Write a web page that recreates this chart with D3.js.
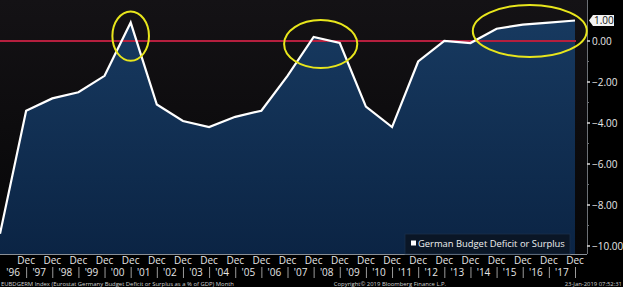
<!DOCTYPE html>
<html><head><meta charset="utf-8">
<script src="https://cdn.jsdelivr.net/npm/d3@7"></script>
<style>html,body{margin:0;padding:0;background:#000;overflow:hidden}svg{display:block}</style>
</head><body>
<script>
const years = [1995,1996,1997,1998,1999,2000,2001,2002,2003,2004,2005,2006,2007,2008,2009,2010,2011,2012,2013,2014,2015,2016,2017];
const values = [-9.4,-3.4,-2.8,-2.5,-1.7,0.9,-3.1,-3.9,-4.2,-3.7,-3.4,-1.7,0.2,-0.1,-3.2,-4.2,-1.0,0.0,-0.1,0.6,0.8,0.9,1.0];
const yTicks = [1,0,-2,-4,-6,-8,-10];
const minorTicks = [-1,-3,-5,-7,-9];
const tickYears = years.slice(1);
const seriesName = "German Budget Deficit or Surplus";
const highlights = [
  {year:2000.0, value:0.24, rxYears:0.70, ryUnits:1.20},
  {year:2007.27, value:-0.15, rxYears:1.40, ryUnits:1.17},
  {year:2015.27, value:0.49, rxYears:2.18, ryUnits:1.27}
];
const footerLeft = "EUBDGERM Index (Eurostat Germany Budget Deficit or Surplus as a % of GDP)  Month";
const footerMid = "Copyright\u00A9 2019 Bloomberg Finance L.P.";
const footerRight = "23-Jan-2019 07:52:31";

const W = 623, H = 287;
const plotR = 576, plotB = 254, axisX = 587;
const svg = d3.select("body").append("svg").attr("width", W).attr("height", H);
const defs = svg.append("defs");
const bg = defs.append("linearGradient").attr("id","bg").attr("x1",0).attr("y1",0).attr("x2",0).attr("y2",1);
bg.append("stop").attr("offset","0%").attr("stop-color","#141215");
bg.append("stop").attr("offset","100%").attr("stop-color","#060607");
const fg = defs.append("linearGradient").attr("id","fillg").attr("gradientUnits","userSpaceOnUse").attr("x1",0).attr("y1",0).attr("x2",0).attr("y2",plotB);
fg.append("stop").attr("offset","0%").attr("stop-color","#183b62");
fg.append("stop").attr("offset","100%").attr("stop-color","#0b2444");

svg.append("rect").attr("width",W).attr("height",H).attr("fill","#000");
svg.append("rect").attr("width",axisX).attr("height",plotB).attr("fill","url(#bg)");

const x = d3.scaleLinear().domain([1995,2017]).range([0,575]);
const y = d3.scaleLinear().domain([-10,0]).range([246,41]);
const data = years.map((yr,i)=>({year:yr, value:values[i]}));

const area = d3.area().x(d=>x(d.year)).y0(plotB).y1(d=>y(d.value));
svg.append("path").datum(data).attr("d",area).attr("fill","url(#fillg)");

svg.append("line").attr("x1",0).attr("x2",plotR).attr("y1",y(0)).attr("y2",y(0))
  .attr("stroke","#b51f3e").attr("stroke-width",2);

const line = d3.line().x(d=>x(d.year)).y(d=>y(d.value));
svg.append("path").datum(data).attr("d",line).attr("fill","none")
  .attr("stroke","#ffffff").attr("stroke-width",2.2).attr("stroke-linejoin","miter");

svg.append("line").attr("x1",0).attr("x2",axisX).attr("y1",plotB+0.5).attr("y2",plotB+0.5)
  .attr("stroke","#8a8f96").attr("stroke-width",1);

svg.append("line").attr("x1",axisX+0.5).attr("x2",axisX+0.5).attr("y1",0).attr("y2",plotB)
  .attr("stroke","#6d7176").attr("stroke-width",1);
const ax = svg.append("g").attr("transform",`translate(${axisX},0)`);
ax.selectAll(".mt").data(minorTicks).join("line")
  .attr("x1",0).attr("x2",2).attr("y1",d=>y(d)).attr("y2",d=>y(d))
  .attr("stroke","#6d7176").attr("stroke-width",1);
ax.selectAll(".t").data(yTicks.filter(d=>d!==1)).join("line")
  .attr("x1",0).attr("x2",3).attr("y1",d=>y(d)).attr("y2",d=>y(d))
  .attr("stroke","#d8d8d8").attr("stroke-width",1.5);
ax.selectAll(".tl").data(yTicks.filter(d=>d!==1)).join("text")
  .attr("x",5).attr("y",d=>y(d)).attr("dy","0.36em")
  .attr("fill","#e8e8e8").attr("font-family","Open Sans, sans-serif").attr("font-size",10)
  .text(d=>d3.format(".2f")(d));
const lastV = values[values.length-1];
const ty = y(lastV);
ax.append("path").attr("d",`M2,${ty} L6,${ty-5.5} L27,${ty-5.5} L27,${ty+5.5} L6,${ty+5.5} Z`).attr("fill","#f2f2f2");
ax.append("text").attr("x",7).attr("y",ty).attr("dy","0.36em").attr("fill","#111")
  .attr("font-family","Open Sans, sans-serif").attr("font-size",10).text(d3.format(".2f")(lastV));

svg.selectAll(".hl").data(highlights).join("ellipse")
  .attr("cx",d=>x(d.year)).attr("cy",d=>y(d.value))
  .attr("rx",d=>x(1995+d.rxYears)-x(1995)).attr("ry",d=>y(-d.ryUnits)-y(0))
  .attr("fill","none").attr("stroke","#e8e61c").attr("stroke-width",2);

const lg = svg.append("g");
lg.append("rect").attr("x",405).attr("y",234).attr("width",165).attr("height",20)
  .attr("fill","#0a1626").attr("stroke","#1a2f4a").attr("stroke-width",0.8);
lg.append("rect").attr("x",411).attr("y",240.5).attr("width",5).attr("height",5).attr("fill","#fff");
const lt = lg.append("text").attr("x",418).attr("y",244).attr("dy","0.36em").attr("fill","#f0f0f0")
  .attr("font-family","Open Sans, sans-serif").attr("font-size",10.5).text(seriesName);
const ltw = lt.node().getComputedTextLength();
if (ltw > 0) lt.attr("font-size", 10.5*147/ltw);

const xa = svg.append("g");
xa.selectAll(".dec").data(tickYears).join("text")
  .attr("x",d=>x(d)).attr("y",260.5).attr("dy","0.36em").attr("text-anchor","middle")
  .attr("fill","#e6e6e6").attr("font-family","Open Sans, sans-serif").attr("font-size",10).text("Dec");
xa.selectAll(".yr").data(tickYears).join("text")
  .attr("x",d=>(x(d)+x(d-1))/2).attr("y",272.3).attr("dy","0.34em").attr("text-anchor","middle")
  .attr("fill","#e6e6e6").attr("font-family","Open Sans, sans-serif").attr("font-size",10)
  .text(d=>"'"+String(d).slice(2));
xa.selectAll(".sep").data(tickYears).join("line")
  .attr("x1",d=>x(d)+0.5).attr("x2",d=>x(d)+0.5).attr("y1",267).attr("y2",278)
  .attr("stroke","#9a9a9a").attr("stroke-width",1);

const ff = {"font-family":"Open Sans, sans-serif","font-size":5.9,"fill":"#cfcfcf"};
function ft(t,xx,anchor){const e=svg.append("text").attr("x",xx).attr("y",285.8).attr("text-anchor",anchor).text(t);for(const k in ff)e.attr(k,ff[k]);return e;}
ft(footerLeft,1,"start");
ft(footerMid,390,"middle");
ft(footerRight,622,"end");
</script>
</body></html>
